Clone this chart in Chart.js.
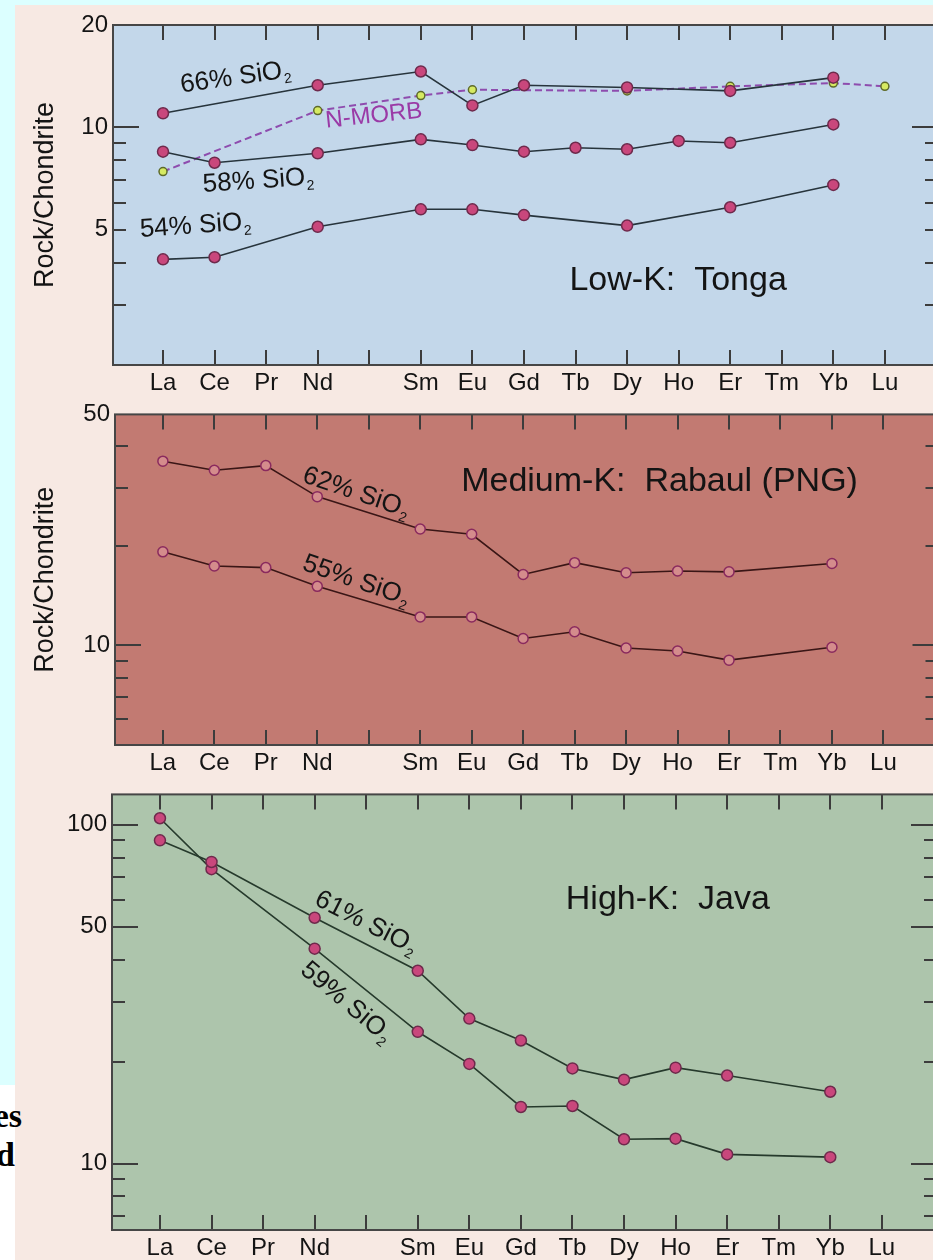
<!DOCTYPE html>
<html>
<head>
<meta charset="utf-8">
<script src="https://cdn.jsdelivr.net/npm/chart.js@4.4.1/dist/chart.umd.min.js"></script>
<style>
html, body { margin: 0; padding: 0; width: 933px; height: 1260px; overflow: hidden; background: #dcffff; }
#page { position: absolute; left: 15px; top: 5px; width: 930px; height: 1255px; background: #f7e9e3; }
#strip { position: absolute; left: 0; top: 1085px; width: 15px; height: 175px; background: #ffffff; }
canvas { position: absolute; left: 15px; }
.frag { position: absolute; font: bold 34px "Liberation Serif", "Times New Roman", serif; color: #000; line-height: 1; }
</style>
</head>
<body>
<div id="page"></div>
<div id="strip"></div>
<div class="frag" style="right:911px; top:1099px;">es</div>
<div class="frag" style="right:918px; top:1138px;">d</div>
<canvas id="tonga" width="930" height="400" style="top:5px"></canvas>
<canvas id="rabaul" width="930" height="390" style="top:395px"></canvas>
<canvas id="java" width="930" height="485" style="top:775px"></canvas>
<script>
// elementos de tierras raras (Pm sin etiqueta)
var elements = ['La', 'Ce', 'Pr', 'Nd', '', 'Sm', 'Eu', 'Gd', 'Tb', 'Dy', 'Ho', 'Er', 'Tm', 'Yb', 'Lu'];

// Low-K: Tonga
var tonga66 = [11.0, null, null, 13.3, null, 14.6, 11.6, 13.3, null, 13.1, null, 12.8, null, 14.0, null];
var tonga58 = [8.48, 7.87, null, 8.39, null, 9.22, 8.87, 8.48, 8.71, 8.62, 9.12, 9.01, null, 10.2, null];
var tonga54 = [4.09, 4.15, null, 5.10, null, 5.74, 5.74, 5.52, null, 5.14, null, 5.82, null, 6.77, null];
var nmorb = [7.41, null, null, 11.2, null, 12.4, 12.9, null, null, 12.8, null, 13.2, null, 13.5, 13.2];

// Medium-K: Rabaul (PNG)
var rabaul62 = [36.1, 33.9, 35.0, 28.2, null, 22.5, 21.7, 16.4, 17.8, 16.6, 16.8, 16.7, null, 17.7, null];
var rabaul55 = [19.2, 17.4, 17.2, 15.1, null, 12.2, 12.2, 10.5, 11.0, 9.83, 9.62, 9.03, null, 9.88, null];

// High-K: Java
var java61 = [90.0, 77.7, null, 53.2, null, 37.1, 26.8, 23.1, 19.1, 17.7, 19.2, 18.2, null, 16.3, null];
var java59 = [104.6, 74.0, null, 43.1, null, 24.5, 19.7, 14.7, 14.8, 11.8, 11.85, 10.65, null, 10.45, null];

// marcas del eje y
var tongaTicks = [20, 10, 5];
var tongaMinor = [3, 4, 5, 6, 7, 8, 9, 10];
var rabaulTicks = [50, 10];
var rabaulMinor = [6, 7, 8, 9, 10, 20, 30, 40];
var javaTicks = [100, 50, 10];
var javaMinor = [7, 8, 9, 10, 20, 30, 40, 50, 60, 70, 80, 90, 100];

var FONT = '"Liberation Sans", Arial, Helvetica, sans-serif';

function points(arr) {
    return arr.map(function (v, i) { return { x: i, y: v }; });
}

function drawLabel(ctx, x, y, rot, size, text, sub, color) {
    ctx.save();
    ctx.translate(x, y);
    ctx.rotate(rot * Math.PI / 180);
    ctx.fillStyle = color;
    ctx.textBaseline = 'middle';
    ctx.textAlign = 'left';
    ctx.font = size + 'px ' + FONT;
    var w1 = ctx.measureText(text).width;
    ctx.font = Math.round(size * 0.55) + 'px ' + FONT;
    var w2 = sub ? ctx.measureText(sub).width : 0;
    var x0 = -(w1 + w2) / 2;
    ctx.font = size + 'px ' + FONT;
    ctx.fillText(text, x0, 0);
    if (sub) {
        ctx.font = Math.round(size * 0.55) + 'px ' + FONT;
        ctx.fillText(sub, x0 + w1 + 1, size * 0.33);
    }
    ctx.restore();
}

var frame = {
    id: 'frame',
    beforeDraw: function (chart, args, o) {
        var ctx = chart.ctx, a = chart.chartArea;
        ctx.save();
        ctx.fillStyle = o.bg;
        ctx.fillRect(a.left, a.top, a.right - a.left, a.bottom - a.top);
        ctx.restore();
    },
    beforeDatasetsDraw: function (chart, args, o) {
        var ctx = chart.ctx, a = chart.chartArea, x = chart.scales.x, y = chart.scales.y;
        ctx.save();
        ctx.strokeStyle = '#3c3c3c';
        ctx.lineWidth = 2;
        ctx.beginPath();
        elements.forEach(function (e, i) {
            var px = Math.round(x.getPixelForValue(i));
            ctx.moveTo(px, a.top); ctx.lineTo(px, a.top + 15);
            ctx.moveTo(px, a.bottom); ctx.lineTo(px, a.bottom - 15);
        });
        o.minor.forEach(function (v) {
            var py = Math.round(y.getPixelForValue(v));
            var len = o.major.indexOf(v) >= 0 ? 26 : 13;
            ctx.moveTo(a.left, py); ctx.lineTo(a.left + len, py);
            ctx.moveTo(a.right, py); ctx.lineTo(a.right - len, py);
        });
        ctx.stroke();
        ctx.restore();
    },
    afterDatasetsDraw: function (chart, args, o) {
        var ctx = chart.ctx, a = chart.chartArea, x = chart.scales.x, y = chart.scales.y;
        ctx.save();
        ctx.strokeStyle = '#464646';
        ctx.lineWidth = 2;
        ctx.strokeRect(a.left, a.top, a.right - a.left, a.bottom - a.top);
        ctx.restore();
        o.notes.forEach(function (n) {
            drawLabel(ctx, x.getPixelForValue(n.x), y.getPixelForValue(n.y), n.rot, n.size, n.text, n.sub, n.color || '#141414');
        });
    }
};

function series(data, line, fill, edge, radius, dash) {
    return {
        data: points(data),
        borderColor: line,
        borderWidth: dash ? 2 : 1.6,
        borderDash: dash || [],
        pointRadius: radius,
        pointBackgroundColor: fill,
        pointBorderColor: edge,
        pointBorderWidth: 1.5,
        spanGaps: true,
        tension: 0
    };
}

function makePanel(id, p) {
    return new Chart(document.getElementById(id), {
        type: 'line',
        data: { datasets: p.datasets },
        plugins: [frame],
        options: {
            responsive: false,
            animation: false,
            layout: { padding: { top: p.padTop, right: p.padRight, left: 0, bottom: 0 } },
            plugins: {
                legend: { display: false },
                tooltip: { enabled: false },
                frame: { bg: p.bg, minor: p.minor, major: p.major, notes: p.notes }
            },
            scales: {
                x: {
                    type: 'linear',
                    min: p.xmin, max: p.xmax,
                    afterBuildTicks: function (s) { s.ticks = elements.map(function (e, i) { return { value: i }; }); },
                    afterFit: function (s) { s.height = p.xHeight; },
                    grid: { display: false, drawTicks: false },
                    border: { display: false },
                    ticks: {
                        autoSkip: false, maxRotation: 0, padding: 4, color: '#141414',
                        font: { family: FONT, size: 24 },
                        callback: function (v) { return elements[v]; }
                    }
                },
                y: {
                    type: 'logarithmic',
                    min: p.ymin, max: p.ymax,
                    afterBuildTicks: function (s) { s.ticks = p.ticks.map(function (v) { return { value: v }; }); },
                    afterFit: function (s) { s.width = p.yWidth; },
                    grid: { display: false, drawTicks: false },
                    border: { display: false },
                    title: {
                        display: !!p.title, text: p.title || '', color: '#141414',
                        font: { family: FONT, size: 27 }, padding: { top: 14, bottom: 0 }
                    },
                    ticks: {
                        padding: 5, color: '#141414',
                        font: { family: FONT, size: 24 },
                        callback: function (v) { return String(v); }
                    }
                }
            }
        }
    });
}

var pinkFill = '#c9477c', pinkEdge = '#6e2a4c';

makePanel('tonga', {
    bg: '#c3d7ea', padTop: 20, padRight: 7, yWidth: 98, xHeight: 40,
    xmin: -0.97, xmax: 15.03, ymin: 2, ymax: 20,
    ticks: tongaTicks, minor: tongaMinor, major: [10],
    title: 'Rock/Chondrite',
    datasets: [
        series(tonga66, '#27343c', pinkFill, pinkEdge, 5.5),
        series(tonga58, '#27343c', pinkFill, pinkEdge, 5.5),
        series(tonga54, '#27343c', pinkFill, pinkEdge, 5.5),
        series(nmorb, '#8e4cae', '#d6ea62', '#5d6a2a', 4, [7, 4])
    ],
    notes: [
        { text: '66% SiO', sub: '2', x: 1.40, y: 14.0, rot: -8, size: 26 },
        { text: '58% SiO', sub: '2', x: 1.84, y: 6.95, rot: -4, size: 26 },
        { text: '54% SiO', sub: '2', x: 0.62, y: 5.13, rot: -4, size: 26 },
        { text: 'N-MORB', x: 4.09, y: 10.8, rot: -6, size: 24, color: '#9a3aa6' },
        { text: 'Low-K:  Tonga', x: 9.99, y: 3.53, rot: 0, size: 34 }
    ]
});

makePanel('rabaul', {
    bg: '#c27a72', padTop: 12, padRight: 5, yWidth: 100, xHeight: 40,
    xmin: -0.93, xmax: 15.07, ymin: 5, ymax: 50,
    ticks: rabaulTicks, minor: rabaulMinor, major: [10],
    title: 'Rock/Chondrite',
    datasets: [
        series(rabaul62, '#3a1616', '#d48c8c', '#8a2a5e', 5),
        series(rabaul55, '#3a1616', '#d48c8c', '#8a2a5e', 5)
    ],
    notes: [
        { text: '62% SiO', sub: '2', x: 3.75, y: 29.0, rot: 19, size: 26 },
        { text: '55% SiO', sub: '2', x: 3.75, y: 15.7, rot: 19, size: 26 },
        { text: 'Medium-K:  Rabaul (PNG)', x: 9.65, y: 31.2, rot: 0, size: 34 }
    ]
});

makePanel('java', {
    bg: '#adc5ac', padTop: 17, padRight: 8, yWidth: 97, xHeight: 30,
    xmin: -0.93, xmax: 15.07, ymin: 6.37, ymax: 123,
    ticks: javaTicks, minor: javaMinor, major: [100, 50, 10],
    title: '',
    datasets: [
        series(java61, '#263a2c', pinkFill, pinkEdge, 5.5),
        series(java59, '#263a2c', pinkFill, pinkEdge, 5.5)
    ],
    notes: [
        { text: '61% SiO', sub: '2', x: 3.99, y: 51.4, rot: 27, size: 26 },
        { text: '59% SiO', sub: '2', x: 3.61, y: 29.96, rot: 40, size: 26 },
        { text: 'High-K:  Java', x: 9.85, y: 60.1, rot: 0, size: 34 }
    ]
});
</script>
</body>
</html>
